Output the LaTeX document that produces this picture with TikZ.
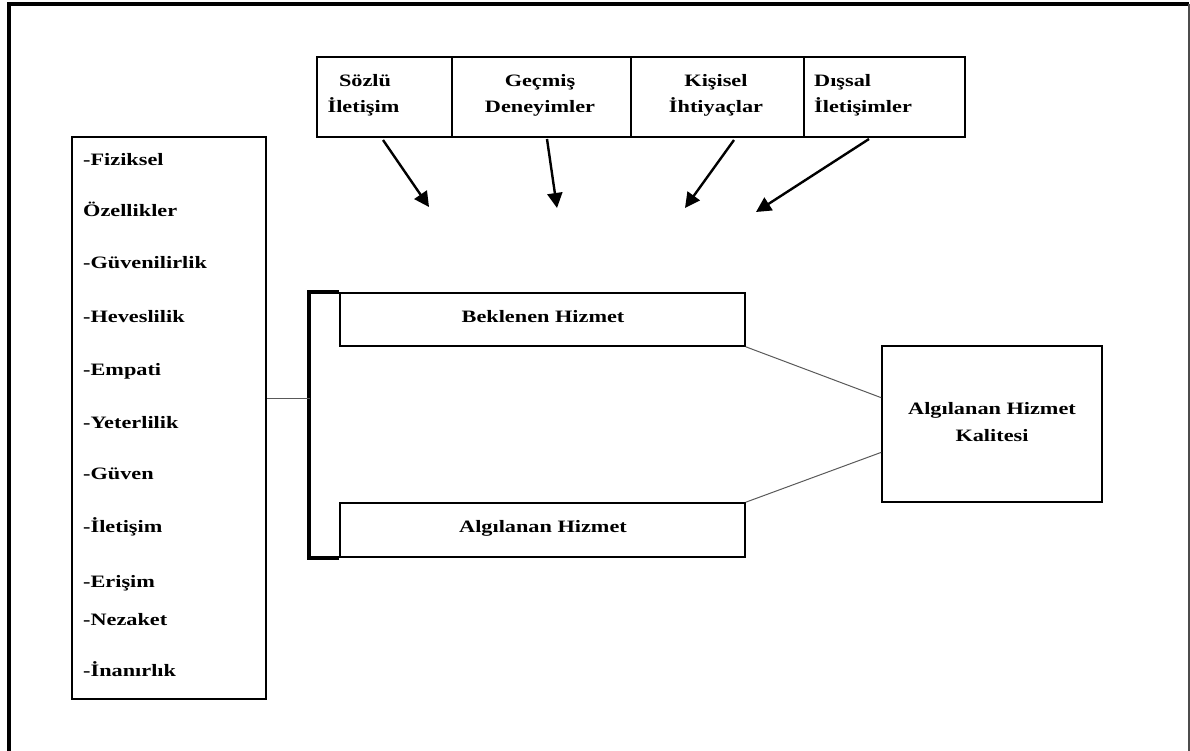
\documentclass[tikz,border=0pt]{standalone}
\usepackage{fontspec}
\setmainfont{Liberation Serif}[FakeStretch=1.28]
\usetikzlibrary{arrows.meta,calc}

\begin{document}
\begin{tikzpicture}[x=1pt,y=-1pt,
  box/.style={draw, line width=1.6pt, inner sep=0pt, anchor=center},
  topbox/.style={box, line width=2pt, minimum height=80pt},
  lbl/.style={font=\fontsize{17.4}{20}\selectfont\bfseries, inner sep=0pt, anchor=base},
  lblw/.style={lbl, anchor=base west},
  link/.style={draw=black!65, line width=1pt},
  inflow/.style={line width=2.4pt, -{Triangle[length=15pt,width=15pt]}},
  line join=miter]
\useasboundingbox (0,0) rectangle (1190,751);

% page frame
\draw[line width=3.5pt] (9,751) -- (9,4) -- (1189,4);
\draw[line width=1.5pt, black!70] (1189,4) -- (1189,751);

% expectation sources (top row)
\node[topbox, minimum width=135pt] (b1) at (384.5,97) {};
\node[topbox, minimum width=179pt] (b2) at (541.5,97) {};
\node[topbox, minimum width=173pt] (b3) at (717.5,97) {};
\node[topbox, minimum width=161pt] (b4) at (884.5,97) {};
\node[lbl] (t1a) at (365,87) {Sözlü};
\node[lbl] (t1b) at (363.5,113) {İletişim};
\node[lbl] (t2a) at (540,87) {Geçmiş};
\node[lbl] (t2b) at (540,113) {Deneyimler};
\node[lbl] (t3a) at (716,87) {Kişisel};
\node[lbl] (t3b) at (716,113) {İhtiyaçlar};
\node[lblw] (t4a) at (814,87) {Dışsal};
\node[lblw] (t4b) at (814,113) {İletişimler};

% arrows from the sources
\coordinate (s1) at (383,140); \coordinate (e1) at (429,207);
\coordinate (s2) at (547,139); \coordinate (e2) at (557,208);
\coordinate (s3) at (734,140); \coordinate (e3) at (685,208);
\coordinate (s4) at (869,139); \coordinate (e4) at (756,212);
\draw[inflow] (s1) -- (e1);
\draw[inflow] (s2) -- (e2);
\draw[inflow] (s3) -- (e3);
\draw[inflow] (s4) -- (e4);

% service quality dimensions
\node[box, line width=2pt, minimum width=194pt, minimum height=562pt] (lft) at (169,418) {};
\node[lblw] (d1) at (83,166) {-Fiziksel};
\node[lblw] (d2) at (83,217) {Özellikler};
\node[lblw] (d3) at (83,268) {-Güvenilirlik};
\node[lblw] (d4) at (83,322) {-Heveslilik};
\node[lblw] (d5) at (83,375) {-Empati};
\node[lblw] (d6) at (83,428) {-Yeterlilik};
\node[lblw] (d7) at (83,479) {-Güven};
\node[lblw] (d8) at (83,532) {-İletişim};
\node[lblw] (d9) at (83,587) {-Erişim};
\node[lblw] (d10) at (83,625) {-Nezaket};
\node[lblw] (d11) at (83,676) {-İnanırlık};

% expected and perceived service
\node[box, minimum width=405pt, minimum height=53pt] (bek) at (542.5,319.5) {};
\node[box, minimum width=405pt, minimum height=54pt] (alg) at (542.5,530) {};
\node[lbl] (tbek) at (543,322) {Beklenen Hizmet};
\node[lbl] (talg) at (543,532) {Algılanan Hizmet};

% bracket joining the two
\draw[line width=3.5pt] (bek.north west) -- ++(-30,0) |- (alg.south west);
\coordinate (j) at (310,398);
\draw[link] (lft.east |- j) -- (j);

% perceived service quality
\node[box, line width=1.5pt, minimum width=220pt, minimum height=156pt] (qual) at (992,424) {};
\node[lbl] (tq1) at (992,414) {Algılanan Hizmet};
\node[lbl] (tq2) at (992,441) {Kalitesi};
\draw[link] (bek.south east) -- ($(qual.north west)!0.333!(qual.south west)$);
\draw[link] (alg.north east) -- ($(qual.north west)!0.68!(qual.south west)$);
\end{tikzpicture}
\end{document}
